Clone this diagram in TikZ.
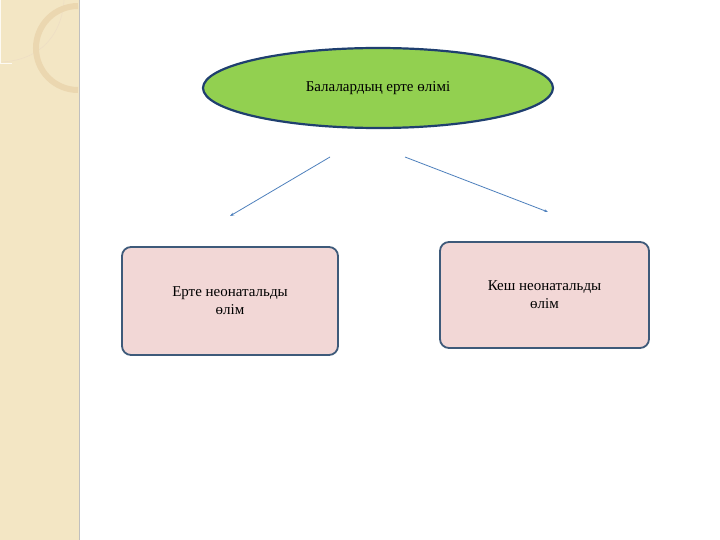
\documentclass[tikz,border=0pt]{standalone}
\usepackage{fontspec}
\setmainfont{Liberation Serif}
\usetikzlibrary{shapes.geometric,arrows.meta}
\definecolor{strip}{HTML}{F3E6C4}
\definecolor{elfill}{HTML}{92D050}
\definecolor{elline}{HTML}{1F3F6F}
\definecolor{boxfill}{HTML}{F2D7D6}
\definecolor{boxline}{HTML}{3E5A7A}
\definecolor{arr}{HTML}{4F81BD}
\tikzset{
 box/.style={draw=boxline,line width=1.8pt,fill=boxfill,rounded corners=9pt,align=center,font=\fontsize{15}{18}\selectfont},
 conn/.style={draw=arr,line width=0.8pt,-{Stealth[length=4pt,width=3pt]}}
}
\begin{document}
\begin{tikzpicture}[x=1pt,y=-1pt]
\useasboundingbox (0,0) rectangle (720,540);
\fill[white] (0,0) rectangle (720,540);
\fill[strip] (0,0) rectangle (79,540);
\draw[white!80!strip,line width=1pt] (0,0) -- (0,64) -- (12,64) arc[start angle=200,end angle=345,radius=0] ;
\draw[strip!70!brown!60!white,line width=0.6pt] (2,62) .. controls (40,60) and (62,35) .. (64,0);
\draw[strip!85!brown,line width=6pt] (78,90) arc[start angle=90,end angle=270,radius=42];
\draw[black!25,line width=0.6pt] (79,0) -- (79,540);
\node[ellipse,draw=elline,line width=2.2pt,fill=elfill,minimum width=350,minimum height=80,font=\fontsize{15}{18}\selectfont] (top) at (378,88) {Балалардың ерте өлімі};
\node[box,minimum width=216,minimum height=108] (l) at (230,301) {Ерте неонатальды\\өлім};
\node[box,minimum width=209,minimum height=106] (r) at (544.5,295) {Кеш неонатальды\\өлім};
\coordinate (a1) at (330,157); \coordinate (a2) at (230,216);
\coordinate (b1) at (405,157); \coordinate (b2) at (548,212);
\draw[conn] (a1) -- (a2);
\draw[conn] (b1) -- (b2);
\end{tikzpicture}
\end{document}
